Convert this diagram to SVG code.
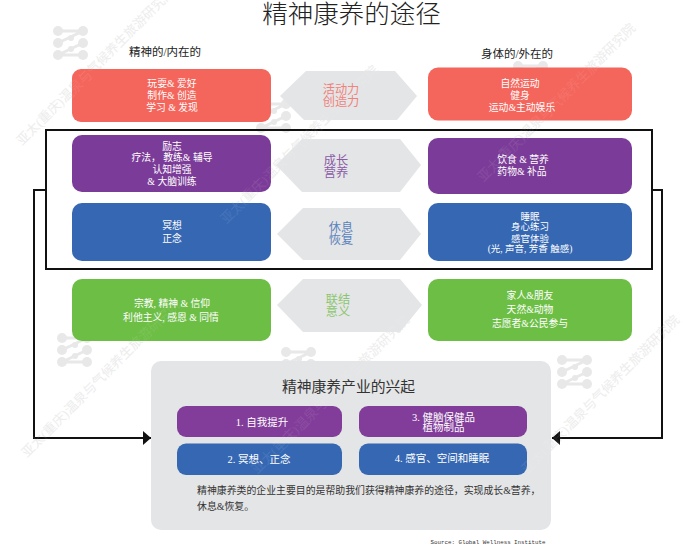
<svg xmlns="http://www.w3.org/2000/svg" width="700" height="546" viewBox="0 0 700 546">
<style>
text{font-family:"Liberation Serif","Noto Sans CJK SC",serif;text-anchor:middle}
.w{fill:#fff;font-size:9.8px}
.i{fill:#fff;font-size:10.500px}
.hl{font-size:12.200px}
.head{fill:#222;font-size:11.500px}
.red{fill:#f4655c}.pur{fill:#7b3b98}.blu{fill:#3567b3}.grn{fill:#6dbe45}.pur2{fill:#823c9a}
.hex{fill:#e4e5e6}
.wmt text{font-size:13px;text-anchor:start}
.logo path{fill:none;stroke-width:3;stroke-linecap:round;stroke-linejoin:round}
.line{fill:none;stroke:#111;stroke-width:2}
</style>
<defs>
<g id="lg" class="logo">
<circle cx="6" cy="6" r="5"/><circle cx="6" cy="18" r="5"/><circle cx="6" cy="30" r="5"/>
<circle cx="31" cy="6" r="5"/><circle cx="31" cy="18" r="5"/><circle cx="31" cy="30" r="5"/>
<circle cx="19" cy="13" r="3"/><circle cx="19" cy="24" r="3"/>
<path stroke="#e8e8e8" d="M6 6H31L6 18M31 18L6 30H31"/>
</g>
<g id="wmt" class="wmt">
<text transform="translate(22 146) rotate(-45)">亚太(重庆)温泉与气候养生旅游研究院</text>
<text transform="translate(226 224) rotate(-45)">亚太(重庆)温泉与气候养生旅游研究院</text>
<text transform="translate(483 182) rotate(-45)">亚太(重庆)温泉与气候养生旅游研究院</text>
<text transform="translate(27 458) rotate(-45)">亚太(重庆)温泉与气候养生旅游研究院</text>
<text transform="translate(257 474) rotate(-45)">亚太(重庆)温泉与气候养生旅游研究院</text>
<text transform="translate(527 474) rotate(-45)">亚太(重庆)温泉与气候养生旅游研究院</text>
</g>
<marker id="ah" markerWidth="9" markerHeight="14" refX="8" refY="7" orient="auto" markerUnits="userSpaceOnUse"><path d="M0 0L8 7L0 14Z" fill="#111"/></marker>
</defs>
<rect width="700" height="546" fill="#fff"/>
<g id="watermarks" fill="#ececec">
<use href="#lg" x="52" y="25" style="fill:#e8e8e8"/><use href="#lg" x="255" y="98" style="fill:#e8e8e8"/><use href="#lg" x="512" y="60" style="fill:#e8e8e8"/>
<use href="#lg" x="56" y="332" style="fill:#e8e8e8"/><use href="#lg" x="280" y="346" style="fill:#e8e8e8"/><use href="#lg" x="556" y="354" style="fill:#e8e8e8"/>
<use href="#wmt"/>
</g>
<text id="title" x="351.500" y="23" font-size="25.500" font-weight="300" fill="#222">精神康养的途径</text>
<text class="head" x="165" y="56">精神的/内在的</text>
<text class="head" x="517" y="57.500">身体的/外在的</text>
<g id="connectors">
<rect class="line" x="46" y="130" width="606" height="139"/>
<path class="line" d="M46 190H34V438H151" marker-end="url(#ah)"/>
<path class="line" d="M652 190H662V438H552" marker-end="url(#ah)"/>
</g>
<g id="n-red-left"><rect class="red" x="72" y="69" width="199" height="53" rx="9"/>
<text class="w"><tspan x="172" y="86.500">玩耍&amp; 爱好</tspan><tspan x="172" y="98.500">制作&amp; 创造</tspan><tspan x="172" y="110.500">学习 &amp; 发现</tspan></text></g>
<g id="n-pur-left"><rect class="pur" x="72" y="135" width="199" height="57" rx="10"/>
<text class="w"><tspan x="172" y="149.500">励志</tspan><tspan x="172" y="161">疗法， 教练&amp; 辅导</tspan><tspan x="172" y="172.500">认知增强</tspan><tspan x="172" y="184.500">&amp; 大脑训练</tspan></text></g>
<g id="n-blu-left"><rect class="blu" x="72" y="203" width="199" height="58" rx="10"/>
<text class="w"><tspan x="172" y="228.500">冥想</tspan><tspan x="172" y="241.500">正念</tspan></text></g>
<g id="n-grn-left"><rect class="grn" x="72" y="279" width="199" height="62" rx="10"/>
<text class="w"><tspan x="172" y="306.500">宗教, 精神 &amp; 信仰</tspan><tspan x="171" y="320.500">利他主义, 感恩 &amp; 同情</tspan></text></g>
<g id="n-hex-1"><polygon class="hex" points="280,96 306,71 395,71 417,96 397,120 304,120"/>
<text class="hl" fill="#f0807a"><tspan x="341" y="94">活动力</tspan><tspan x="341" y="106">创造力</tspan></text></g>
<g id="n-hex-2"><polygon class="hex" points="276,165 302,139 400,139 421,165 400,192 302,192"/>
<text class="hl" fill="#8b5ba6"><tspan x="336" y="165">成长</tspan><tspan x="336" y="177">营养</tspan></text></g>
<g id="n-hex-3"><polygon class="hex" points="277,234 303,208 400,208 421,234 400,260 303,260"/>
<text class="hl" fill="#5a82bd"><tspan x="341" y="232">休息</tspan><tspan x="341" y="244">恢复</tspan></text></g>
<g id="n-hex-4"><polygon class="hex" points="277,305 303,279 400,279 422,305 400,332 303,332"/>
<text class="hl" fill="#8cc56f"><tspan x="338" y="304">联结</tspan><tspan x="338" y="316">意义</tspan></text></g>
<g id="n-red-right"><rect class="red" x="428" y="67.500" width="204" height="53" rx="10"/>
<text class="w"><tspan x="520" y="86.500">自然运动</tspan><tspan x="520" y="98.500">健身</tspan><tspan x="522" y="110.500">运动&amp;主动娱乐</tspan></text></g>
<g id="n-pur-right"><rect class="pur" x="428" y="138" width="204" height="56" rx="10"/>
<text class="w"><tspan x="523" y="162.500">饮食 &amp; 营养</tspan><tspan x="522" y="174.500">药物&amp; 补品</tspan></text></g>
<g id="n-blu-right"><rect class="blu" x="428" y="203" width="204" height="58" rx="10"/>
<text class="w" style="font-size:9.500px"><tspan x="530" y="219.500">睡眠</tspan><tspan x="530" y="229.500">身心练习</tspan><tspan x="530" y="241.500">感官体验</tspan><tspan x="530" y="251.500">(光, 声音, 芳香 触感)</tspan></text></g>
<g id="n-grn-right"><rect class="grn" x="428" y="279" width="204" height="62" rx="10"/>
<text class="w"><tspan x="530" y="298.500">家人&amp;朋友</tspan><tspan x="530" y="312.500">天然&amp;动物</tspan><tspan x="530" y="326.500">志愿者&amp;公民参与</tspan></text></g>
<g id="n-panel"><rect x="151" y="361" width="400" height="169" rx="10" fill="#e4e5e6"/>
<text x="348.500" y="392" font-size="14.800" fill="#333">精神康养产业的兴起</text>
<text font-size="9.900" fill="#333" style="text-anchor:start"><tspan x="197" y="494">精神康养类的企业主要目的是帮助我们获得精神康养的途径，实现成长&amp;营养，</tspan><tspan x="197" y="510">休息&amp;恢复。</tspan></text></g>
<g id="n-i1"><rect class="pur2" x="177" y="406" width="165" height="31" rx="9"/><text class="i" x="262" y="426">1. 自我提升</text></g>
<g id="n-i2"><rect class="blu" x="177" y="443.500" width="165" height="31.500" rx="9"/><text class="i" x="259" y="463">2. 冥想、正念</text></g>
<g id="n-i3"><rect class="pur2" x="359" y="406" width="168" height="31" rx="9"/><text class="i"><tspan x="443.500" y="421">3. 健脑保健品</tspan><tspan x="443.500" y="431">植物制品</tspan></text></g>
<g id="n-i4"><rect class="blu" x="359" y="443.500" width="168" height="31.500" rx="9"/><text class="i" x="442" y="462">4. 感官、空间和睡眠</text></g>
<g id="overlay" fill="#fff" opacity=".1"><use href="#wmt"/></g>
<text x="488" y="544" font-size="5.800" fill="#333" style="font-family:'Liberation Mono',monospace">Source: Global Wellness Institute</text>
</svg>
